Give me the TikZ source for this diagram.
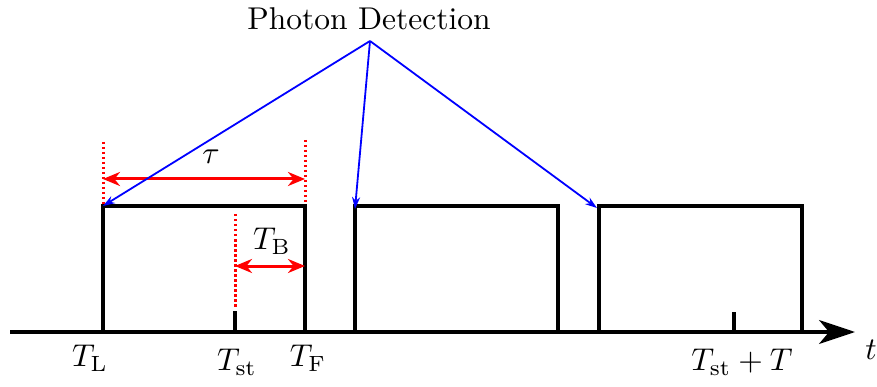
\documentclass[tikz,border=0pt]{standalone}
\usetikzlibrary{arrows.meta}
\begin{document}
\begin{tikzpicture}[x=1pt,y=-1pt,
  pulse/.style={line width=4.2pt,line join=miter},
  axis/.style={line width=3.2pt,-{Stealth[length=36pt,width=24pt,inset=10pt]}},
  reddot/.style={red,line width=3pt,dash pattern=on 2.5pt off 2.5pt},
  redarr/.style={red,line width=3pt,{Stealth[length=17pt,width=14pt]}-{Stealth[length=17pt,width=14pt]}},
  bluearr/.style={blue,line width=1.8pt,-{Stealth[length=12pt,width=8pt]}},
  lbl/.style={scale=3.15,inner sep=0pt}]
\useasboundingbox (0,0) rectangle (877,387);
% coordinates
\coordinate (a0) at (10,332);
\coordinate (a1) at (855,332);
\coordinate (p1a) at (103,332); \coordinate (p1b) at (103,206);
\coordinate (p1c) at (305,206); \coordinate (p1d) at (305,332);
\coordinate (p2a) at (355,332); \coordinate (p2b) at (355,206);
\coordinate (p2c) at (558,206); \coordinate (p2d) at (558,332);
\coordinate (p3a) at (599,332); \coordinate (p3b) at (599,206);
\coordinate (p3c) at (802,206); \coordinate (p3d) at (802,332);
\coordinate (t1a) at (235,332); \coordinate (t1b) at (235,311);
\coordinate (t2a) at (734,332); \coordinate (t2b) at (734,312);
\coordinate (apex) at (370,41);
% axis
\draw[axis] (a0) -- (a1);
% pulses
\draw[pulse] (p1a) -- (p1b) -- (p1c) -- (p1d);
\draw[pulse] (p2a) -- (p2b) -- (p2c) -- (p2d);
\draw[pulse] (p3a) -- (p3b) -- (p3c) -- (p3d);
\draw[line width=3.2pt] (t1a) -- (t1b);
\draw[line width=3.2pt] (t2a) -- (t2b);
% red dotted
\coordinate (d1t) at (103,142); \coordinate (d1b) at (103,204);
\coordinate (d2t) at (305,140); \coordinate (d2b) at (305,204);
\coordinate (d3t) at (235,214); \coordinate (d3b) at (235,308);
\draw[reddot] (d1t) -- (d1b);
\draw[reddot] (d2t) -- (d2b);
\draw[reddot] (d3t) -- (d3b);
% red arrows
\coordinate (tauL) at (103,179); \coordinate (tauR) at (305,179);
\coordinate (tbL) at (235,266); \coordinate (tbR) at (305,266);
\draw[redarr] (tauL) -- (tauR);
\draw[redarr] (tbL) -- (tbR);
% labels
\node[lbl] (pd) at (369,19) {Photon Detection};
\node[lbl] (tau) at (211,157) {$\tau$};
\node[lbl] (tb) at (272,241) {$T_{\mathrm{B}}$};
\node[lbl] (tl) at (90,358) {$T_{\mathrm{L}}$};
\node[lbl] (tst) at (237,362) {$T_{\mathrm{st}}$};
\node[lbl] (tf) at (308,358) {$T_{\mathrm{F}}$};
\node[lbl] (tstT) at (742,362) {$T_{\mathrm{st}}+T$};
\node[lbl] (tt) at (871,350) {$t$};
% blue arrows
\draw[bluearr] (apex) -- (p1b);
\draw[bluearr] (apex) -- ([yshift=-3pt]p2b);
\draw[bluearr] (apex) -- ([xshift=-2pt,yshift=-2pt]p3b);
\end{tikzpicture}
\end{document}
